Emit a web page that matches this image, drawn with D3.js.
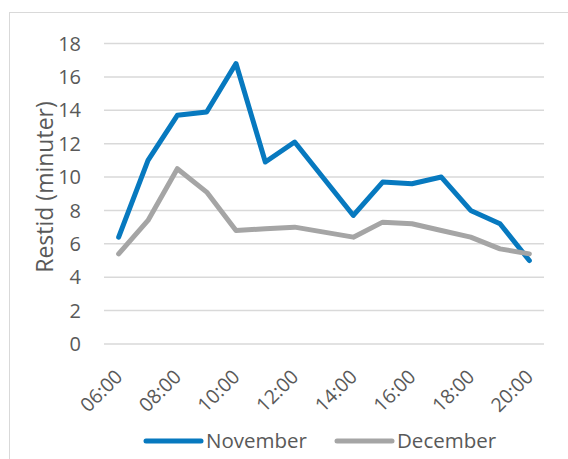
<!DOCTYPE html>
<html>
<head>
<meta charset="utf-8">
<script src="https://cdn.jsdelivr.net/npm/d3@7"></script>
<style>
  body { margin: 0; background: #fff; }
  text { font-family: "Open Sans", "Noto Sans", sans-serif; fill: #595959; }
</style>
</head>
<body>
<div id="chart"></div>
<script>
// travel time per hour, two months
let hours = ["06:00","07:00","08:00","09:00","10:00","11:00","12:00","13:00","14:00","15:00","16:00","17:00","18:00","19:00","20:00"]
let november = [6.4, 11.0, 13.7, 13.9, 16.8, 10.9, 12.1, 9.9, 7.7, 9.7, 9.6, 10.0, 8.0, 7.2, 5.0]
let december = [5.4, 7.4, 10.5, 9.1, 6.8, 6.9, 7.0, 6.7, 6.4, 7.3, 7.2, 6.8, 6.4, 5.7, 5.4]
let yTicks = [0, 2, 4, 6, 8, 10, 12, 14, 16, 18]
let seriesNames = ["November", "December"]
let colors = ["#0779bf", "#a5a5a5"]

let W = 568, H = 459
let margin = {top: 43.5, right: 24, bottom: 115, left: 104}
let width = W - margin.left - margin.right
let height = H - margin.top - margin.bottom

let root = d3.select('#chart')
    .append('svg')
    .attr('width', W)
    .attr('height', H)

// outer chart border
root.append('rect')
    .attr('x', 9.5).attr('y', 12.5)
    .attr('width', 600).attr('height', 500)
    .attr('fill', 'none')
    .attr('stroke', '#d9d9d9')

let svg = root.append('g')
    .attr('transform', `translate(${margin.left},${margin.top})`)

let x = d3.scaleBand().domain(hours).range([0, width])
let y = d3.scaleLinear().domain([0, 18]).range([height, 0])

// gridlines + y labels
svg.selectAll('.grid')
    .data(yTicks)
    .enter()
    .append('line')
    .attr('x1', 0).attr('x2', width)
    .attr('y1', d => y(d)).attr('y2', d => y(d))
    .attr('stroke', '#d9d9d9')
    .attr('stroke-width', 1.5)

svg.selectAll('.ylab')
    .data(yTicks)
    .enter()
    .append('text')
    .attr('x', -23)
    .attr('y', d => y(d))
    .attr('dy', '0.36em')
    .attr('text-anchor', 'end')
    .style('font-size', '20px')
    .text(d => d)

// x labels, every other hour, rotated
svg.selectAll('.xlab')
    .data(hours.filter((d, i) => i % 2 == 0))
    .enter()
    .append('text')
    .attr('transform', d => `translate(${x(d) + x.bandwidth() / 2 + 5},${height + 34}) rotate(-45)`)
    .attr('text-anchor', 'end')
    .style('font-size', '19.5px')
    .text(d => d)

// axis title
svg.append('text')
    .attr('transform', `translate(${53 - margin.left},143.5) rotate(-90)`)
    .attr('text-anchor', 'middle')
    .style('font-size', '23px')
    .text('Restid (minuter)')

let line = d3.line()
    .x((d, i) => x(hours[i]) + x.bandwidth() / 2)
    .y(d => y(d))

let allSeries = [november, december]
svg.selectAll('.series')
    .data(allSeries)
    .enter()
    .append('path')
    .attr('d', line)
    .attr('fill', 'none')
    .attr('stroke', (d, i) => colors[i])
    .attr('stroke-width', 5)
    .attr('stroke-linejoin', 'round')
    .attr('stroke-linecap', 'round')

// legend
let legendX = [146, 337]
let leg = root.selectAll('.legend')
    .data(seriesNames)
    .enter()
    .append('g')
    .attr('transform', (d, i) => `translate(${legendX[i]},441)`)

leg.append('line')
    .attr('x1', 0).attr('x2', 55)
    .attr('stroke', (d, i) => colors[i])
    .attr('stroke-width', 5)
    .attr('stroke-linecap', 'round')

leg.append('text')
    .attr('x', 60)
    .attr('dy', '0.35em')
    .style('font-size', '20.5px')
    .text(d => d)
</script>
</body>
</html>
